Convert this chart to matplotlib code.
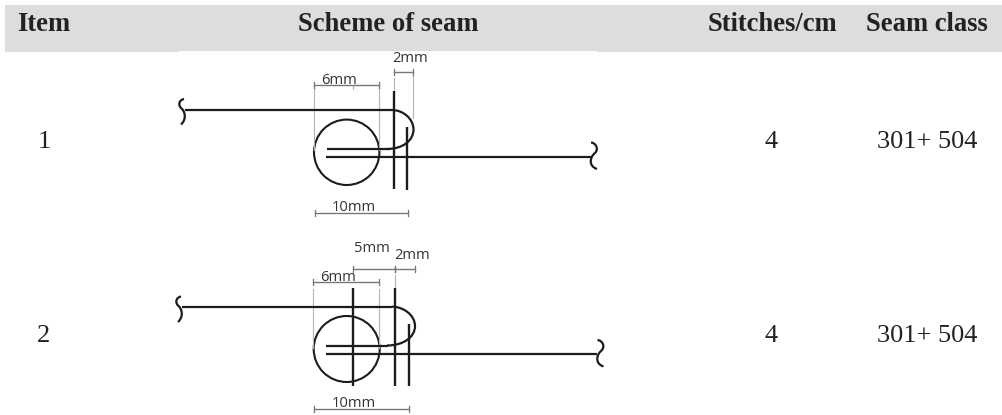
import matplotlib
matplotlib.use('Agg')
import matplotlib.pyplot as plt
from matplotlib.patches import Circle, PathPatch, Rectangle
from matplotlib.path import Path

# --- table text ---
headers = ['Item', 'Scheme of seam', 'Stitches/cm', 'Seam class']
header_x = [44, 388.5, 772, 927]
items = ['1', '2']
stitches = ['4', '4']
seam_class = ['301+ 504', '301+ 504']
row_base = [148, 341.5]
col_x = [44, 771, 927]

# --- seam sketches, in image pixels ---
# horizontal thread pieces: x0, x1, y
threads_1 = [(185, 392, 110), (327, 390, 149), (326, 591, 157)]
threads_2 = [(182, 392, 306.7), (326, 388, 345.5), (326, 597, 354.3)]
# stitches: x, y0, y1
stitches_1 = [(394, 90.7, 189), (407, 127, 190)]
stitches_2 = [(353, 287.7, 386), (395, 287.7, 386), (409, 324.3, 386)]
# circle: cx, cy, r
circle_1 = (346.7, 152.3, 32.7)
circle_2 = (346.7, 349, 33)
# fold: x start, y top, x right, y bottom
fold_1 = (392, 110, 413.5, 149)
fold_2 = (392, 306.7, 415, 345.5)
# dimension bars: x0, x1, y
dims_1 = [(314.3, 378.7, 85), (394.3, 413.3, 72.3), (315, 407.7, 213.3)]
dims_2 = [(353, 395, 269), (395, 415, 269), (313.3, 379.3, 282.3), (314, 409, 409.3)]
# grey guide lines: x, y0, y1
guides_1 = [(314.3, 85, 150), (378.7, 85, 150), (394.3, 78, 92), (413.3, 72.3, 118), (353.5, 85, 89)]
guides_2 = [(313.3, 289, 348), (379.3, 289, 348), (395, 275, 287)]
# dimension labels: text, x, y
labels_1 = [('6mm', 339, 80.5), ('2mm', 410, 58.5), ('10mm', 354, 207)]
labels_2 = [('5mm', 372, 248), ('2mm', 411.7, 255.7), ('6mm', 338, 277.5), ('10mm', 354, 403)]
# thread break marks: top anchor of each mark
break_left = [(184, 99), (181, 296.5)]
break_right = [(591, 142.5), (597.5, 340)]
left_shape = [(0, 0), (-5, 1), (-6, 6), (-3, 9), (1, 12), (3, 20), (-3, 25.5)]
right_shape = [(0, 0), (5, 0.5), (8, 6.5), (4, 10.5), (-1, 14.5), (-3, 23.5), (6, 26.5)]

INK = '#1c1c1c'
GREY = '#777777'
SERIF = 'Liberation Serif'

fig = plt.figure(figsize=(10.03, 4.15), dpi=100)
ax = fig.add_axes([0, 0, 1, 1])
ax.set_xlim(0, 1003)
ax.set_ylim(415, 0)
ax.axis('off')

# header band, the pasted sketch cuts a pixel off its lower edge
ax.add_patch(Rectangle((5, 5), 998, 47, fc='#dcddde', ec='none'))
ax.add_patch(Rectangle((179, 51), 418, 2, fc='white', ec='none'))
for t, x in zip(headers, header_x):
    ax.text(x, 30.7, t, family=SERIF, weight='bold', fontsize=19.2, color='#222222', ha='center', va='baseline')

# body rows
for i in range(2):
    ax.text(col_x[0], row_base[i], items[i], family=SERIF, fontsize=19, color='#222222', ha='center', va='baseline')
    ax.text(col_x[1], row_base[i], stitches[i], family=SERIF, fontsize=19, color='#222222', ha='center', va='baseline')
    ax.text(col_x[2], row_base[i], seam_class[i], family=SERIF, fontsize=19, color='#222222', ha='center', va='baseline')


def draw_seam(threads, sts, circ, fold, dims, guides, labels, lefts, rights):
    for x, y0, y1 in guides:
        ax.plot([x, x], [y0, y1], color='#b5b5b5', lw=0.8)
    for x0, x1, y in threads:
        ax.plot([x0, x1], [y, y], color=INK, lw=1.6, solid_capstyle='butt')
    for x, y0, y1 in sts:
        ax.plot([x, x], [y0, y1], color=INK, lw=1.7, solid_capstyle='butt')
    ax.add_patch(Circle(circ[:2], circ[2], fc='none', ec=INK, lw=1.5))
    x0, yt, xr, yb = fold
    ym = (yt + yb) / 2
    verts = [(x0, yt), (x0 + (xr - x0) * 0.5, yt), (xr, ym - 11), (xr, ym),
             (xr, ym + 11), (x0 + (xr - x0) * 0.5, yb), (x0 - 5, yb)]
    codes = [Path.MOVETO] + [Path.CURVE4] * 6
    ax.add_patch(PathPatch(Path(verts, codes), fc='none', ec=INK, lw=1.6))
    for x0, x1, y in dims:
        ax.plot([x0, x1], [y, y], color=GREY, lw=1)
        for x in (x0, x1):
            ax.plot([x, x], [y - 3, y + 3], color=GREY, lw=0.9)
    for t, x, y in labels:
        ax.text(x, y, t, family='Open Sans', fontsize=10.6, color='#333333', ha='center', va='center')
    # break marks at the thread ends
    for anchors, shape in ((lefts, left_shape), (rights, right_shape)):
        verts = [(anchors[0] + dx, anchors[1] + dy) for dx, dy in shape]
        codes = [Path.MOVETO] + [Path.CURVE4] * 6
        ax.add_patch(PathPatch(Path(verts, codes), fc='none', ec=INK, lw=1.6))


draw_seam(threads_1, stitches_1, circle_1, fold_1, dims_1, guides_1, labels_1, break_left[0], break_right[0])
draw_seam(threads_2, stitches_2, circle_2, fold_2, dims_2, guides_2, labels_2, break_left[1], break_right[1])

plt.savefig('out.png', dpi=100)
